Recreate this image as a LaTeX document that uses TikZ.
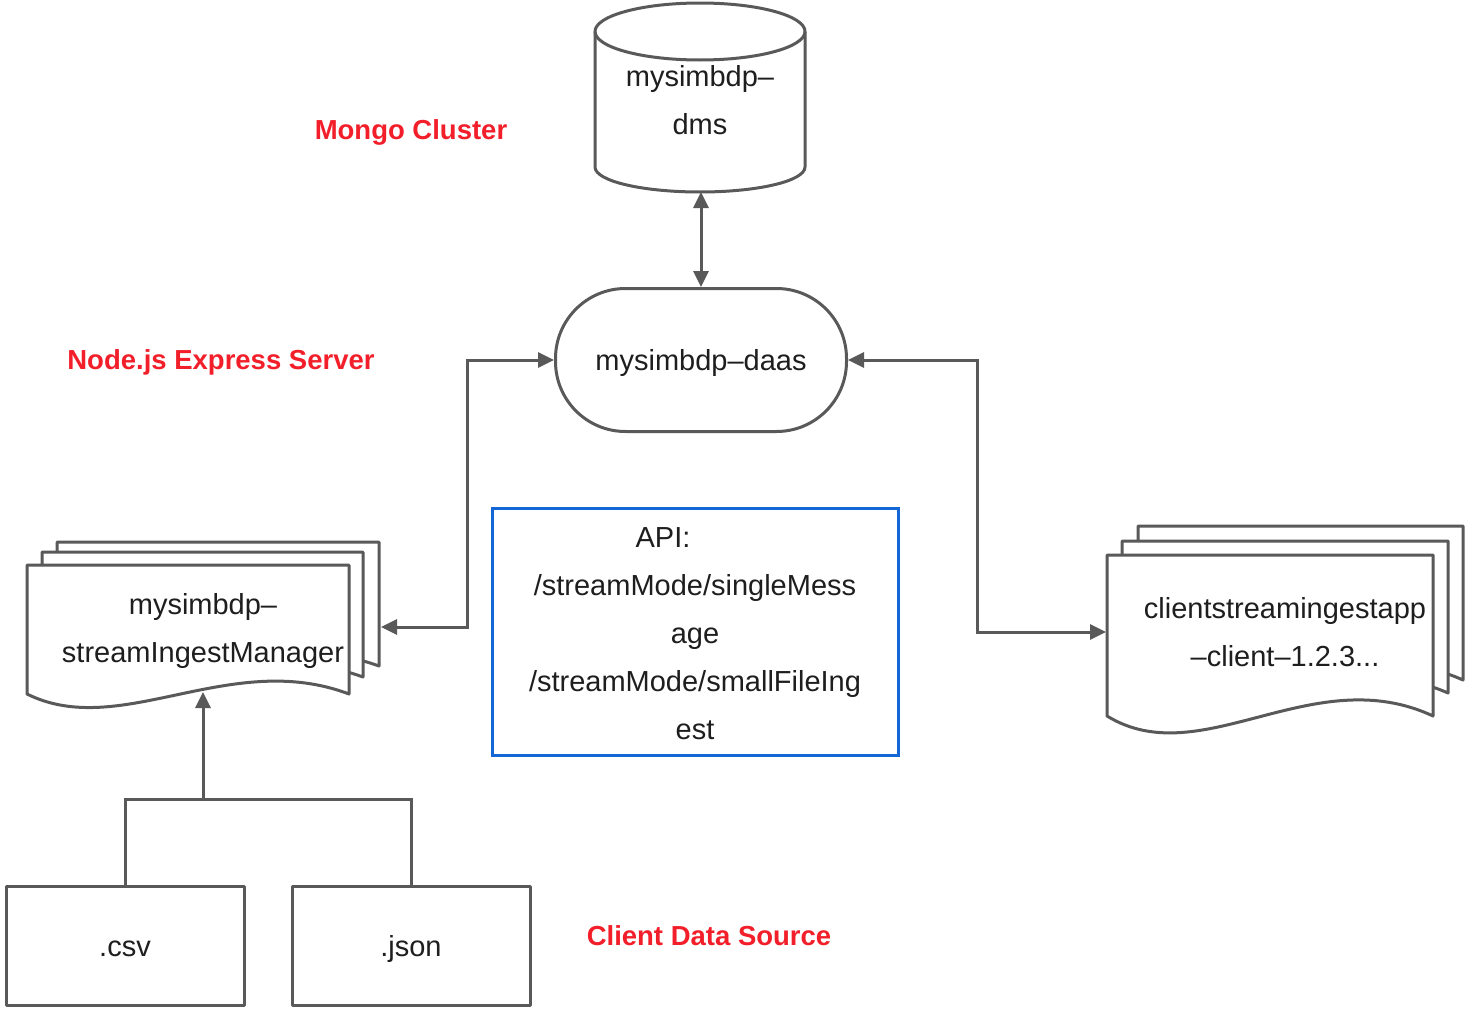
\documentclass[tikz,border=0pt]{standalone}
\usepackage{fontspec}
\setmainfont{Liberation Sans}
\usetikzlibrary{arrows.meta}
\definecolor{lineg}{HTML}{595959}
\definecolor{lblred}{HTML}{F21F2A}
\definecolor{apiblue}{HTML}{1367D4}
\definecolor{txt}{HTML}{1E1E1E}
\tikzset{
  shapeline/.style={draw=lineg, line width=3pt, line join=round},
  tip/.tip={Triangle[length=16pt,width=15pt]},
  conn/.style={draw=lineg, line width=3pt, -tip},
  conntwo/.style={draw=lineg, line width=3pt, tip-tip},
  plainline/.style={draw=lineg, line width=3pt},
  lbl/.style={text=txt, font=\fontsize{29}{48}\selectfont, align=center, inner sep=0pt},
  redlbl/.style={text=lblred, font=\fontsize{27.5}{33}\selectfont\bfseries, inner sep=0pt},
  boxnode/.style={shapeline, fill=white, rectangle, inner sep=0pt},
}
\newcommand{\docshape}[4]{%
  \pgfmathsetmacro\docW{#3-#1}\pgfmathsetmacro\docH{#4-#2}%
  \pgfmathsetmacro\docA{#3-0.37*\docW}\pgfmathsetmacro\docB{#4-0.35*\docH}%
  \pgfmathsetmacro\docC{#1+0.29*\docW}\pgfmathsetmacro\docD{#4+0.36*\docH}%
  \draw[shapeline, fill=white] (#1,#2) -- (#3,#2) -- (#3,#4) .. controls (\docA,\docB) and (\docC,\docD) .. (#1,#4) -- cycle;}
\begin{document}
\begin{tikzpicture}[x=1pt,y=-1pt]
\useasboundingbox (0,0) rectangle (1470,1009);

% cylinder mysimbdp-dms
\draw[shapeline, fill=white] (595,31.5) -- (595,167)
  .. controls (595,181) and (642,192) .. (700,192)
  .. controls (758,192) and (805,181) .. (805,167) -- (805,31.5);
\draw[shapeline] (700,31.5) ellipse [x radius=105pt, y radius=28.5pt];
\coordinate (dmsbottom) at (701,192);
\node[lbl] (dms) at (700,100) {mysimbdp–\\dms};

% daas
\node[shapeline, rounded corners=70pt, minimum width=291pt, minimum height=143pt, inner sep=0pt] (daas) at (701,360) {};
\node[lbl] (daastext) at (701,363) {mysimbdp–daas};

% left stacked document
\docshape{57}{542}{379}{666}
\docshape{42}{552}{363}{677}
\docshape{27}{565}{349}{694}
\node[lbl] (sim) at (203,631) {mysimbdp–\\streamIngestManager};
\coordinate (simright) at (381,627);
\coordinate (simbottom) at (203,692);

% right stacked document
\docshape{1138}{526}{1463}{680}
\docshape{1122}{541}{1448}{693}
\docshape{1107}{555}{1433}{716}
\node[lbl] (cli) at (1285,632) {clientstreamingestapp\\–client–1.2.3...};
\coordinate (clileft) at (1106,632);

% API box
\node[draw=apiblue, line width=3pt, minimum width=406pt, minimum height=247pt, inner sep=0pt] (api) at (695,632) {};
\node[lbl] (apitext) at (695,634) {API:\hspace*{64pt}\\/streamMode/singleMess\\age\\/streamMode/smallFileIng\\est};

% data sources
\node[boxnode, minimum width=238pt, minimum height=119pt] (csv) at (125,946) {};
\node[lbl] (csvtext) at (125,949) {.csv};
\node[boxnode, minimum width=238pt, minimum height=119pt] (json) at (411,946) {};
\node[lbl] (jsontext) at (411,949) {.json};
\coordinate (merge) at (203,799);

% labels
\node[redlbl] (mongo) at (411,132) {Mongo Cluster};
\node[redlbl] (node) at (221,362) {Node.js Express Server};
\node[redlbl] (src) at (709,936) {Client Data Source};

% connectors
\draw[conntwo] (dmsbottom) -- (daas.north);
\draw[conntwo] (simright) -- (467,627) -- (467,360) -- (daas.west);
\draw[conntwo] (daas.east) -- (977,360) -- (977,632) -- (clileft);
\draw[plainline] (csv.north) -- (125,799) -- (411,799) -- (json.north);
\draw[conn] (merge) -- (simbottom);
\end{tikzpicture}
\end{document}
